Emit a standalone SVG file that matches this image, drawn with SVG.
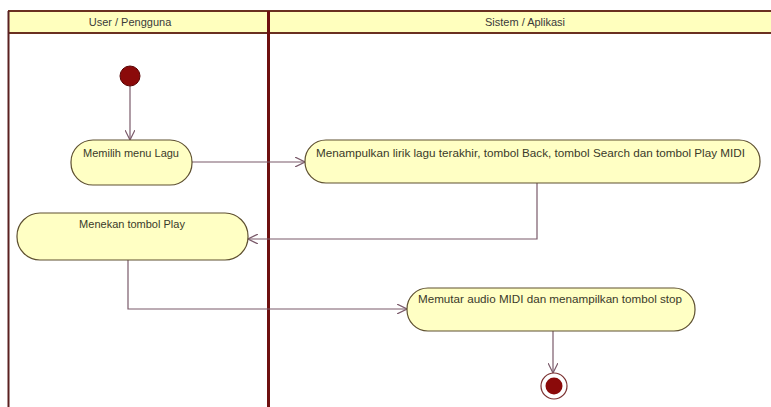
<svg xmlns="http://www.w3.org/2000/svg" width="771" height="407" viewBox="0 0 771 407">
  <defs>
    <marker id="arrow" viewBox="0 0 10 10" refX="10" refY="5" markerWidth="10" markerHeight="10" markerUnits="userSpaceOnUse" orient="auto">
      <path d="M0,0 L10,5 L0,10" fill="none" stroke="#7a5a6a" stroke-width="1.2"/>
    </marker>
  </defs>
  <style>
    .lbl { font-family: "Liberation Sans", Arial, sans-serif; font-size: 11px; fill: #3a3a2a; }
    .hdr { font-family: "Liberation Sans", Arial, sans-serif; font-size: 11px; fill: #3a3a3a; text-anchor: middle; }
    .act { fill: #ffffc4; stroke: #5e5030; stroke-width: 1.2; }
    .edge { fill: none; stroke: #7a5a6a; stroke-width: 1.2; marker-end: url(#arrow); }
  </style>
  <rect width="771" height="407" fill="#ffffff"/>

  <!-- swimlanes -->
  <g id="lanes">
    <rect x="8" y="11" width="775" height="22" fill="#ffffbe"/>
    <line x1="8" y1="11" x2="783" y2="11" stroke="#6a3020" stroke-width="2"/>
    <line x1="8" y1="33" x2="783" y2="33" stroke="#6a3020" stroke-width="2"/>
    <line x1="8.5" y1="11" x2="8.5" y2="407" stroke="#5a2020" stroke-width="2"/>
    <line x1="268.5" y1="11" x2="268.5" y2="407" stroke="#6e1010" stroke-width="3"/>
    <text class="hdr" x="130" y="26">User / Pengguna</text>
    <text class="hdr" x="525" y="26">Sistem / Aplikasi</text>
  </g>

  <!-- connectors -->
  <g id="connectors">
    <path class="edge" d="M130,86 L130,140"/>
    <path class="edge" d="M192,162 L305,162"/>
    <path class="edge" d="M537,183 L537,239 L248,239"/>
    <path class="edge" d="M128,260 L128,309 L407,309"/>
    <path class="edge" d="M553,331 L553,373"/>
  </g>

  <g id="start">
    <circle cx="130" cy="76" r="10" fill="#8b0a0a" stroke="#5a0505" stroke-width="1"/>
  </g>

  <g id="memilih-menu">
    <rect class="act" x="71" y="140" width="121" height="45" rx="22" ry="22"/>
    <text class="lbl" x="131" y="157" text-anchor="middle">Memilih menu Lagu</text>
  </g>

  <g id="menampilkan-lirik">
    <rect class="act" x="305" y="140" width="455" height="43" rx="21" ry="21"/>
    <text class="lbl" x="316" y="157" textLength="429" lengthAdjust="spacingAndGlyphs">Menampulkan lirik lagu terakhir, tombol Back, tombol Search dan tombol Play MIDI</text>
  </g>

  <g id="menekan-play">
    <rect class="act" x="17" y="213" width="231" height="47" rx="23" ry="23"/>
    <text class="lbl" x="132" y="228" text-anchor="middle">Menekan tombol Play</text>
  </g>

  <g id="memutar-audio">
    <rect class="act" x="407" y="288" width="288" height="43" rx="21" ry="21"/>
    <text class="lbl" x="418" y="303" textLength="264" lengthAdjust="spacingAndGlyphs">Memutar audio MIDI dan menampilkan tombol stop</text>
  </g>

  <g id="end">
    <circle cx="554" cy="386" r="13" fill="#ffffff" stroke="#7a3030" stroke-width="1.2"/>
    <circle cx="554" cy="386" r="8.5" fill="#8b0a0a"/>
  </g>
</svg>
